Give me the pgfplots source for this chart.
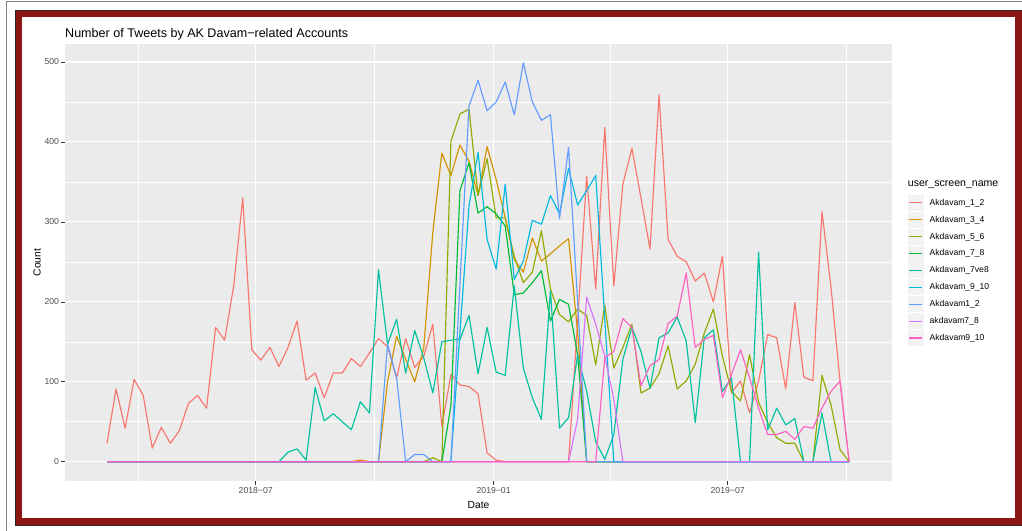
\documentclass[border=0pt]{standalone}
\usepackage{pgfplots}
\usepackage{pgfplotstable}
\pgfplotsset{compat=1.18}
\usepackage{fontspec}
\setmainfont{Liberation Sans}
\definecolor{c1}{HTML}{F8766D}
\definecolor{c2}{HTML}{D39200}
\definecolor{c3}{HTML}{93AA00}
\definecolor{c4}{HTML}{00BA38}
\definecolor{c5}{HTML}{00C19F}
\definecolor{c6}{HTML}{00B9E3}
\definecolor{c7}{HTML}{619CFF}
\definecolor{c8}{HTML}{DB72FB}
\definecolor{c9}{HTML}{FF61C3}
\definecolor{panel}{HTML}{EBEBEB}
\definecolor{grey20}{HTML}{333333}
\definecolor{grey30}{HTML}{4D4D4D}
\definecolor{keybg}{HTML}{F2F2F2}
\definecolor{framered}{HTML}{8B1713}
\pgfplotsset{keyimg/.style={legend image code/.code={\path[fill=keybg, draw=none] (0bp,-8bp) rectangle (16bp,8bp); \path[draw=#1, line width=1.15bp] (1.5bp,0bp) -- (14.5bp,0bp);}}}
\pgfplotstableread{
i s1 s2 s3 s4 s5 s6 s7 s8 s9
0 23 0 0 0 0 0 0 0 0
1 91 0 0 0 0 0 0 0 0
2 42 0 0 0 0 0 0 0 0
3 103 0 0 0 0 0 0 0 0
4 83 0 0 0 0 0 0 0 0
5 17 0 0 0 0 0 0 0 0
6 43 0 0 0 0 0 0 0 0
7 23 0 0 0 0 0 0 0 0
8 39 0 0 0 0 0 0 0 0
9 73 0 0 0 0 0 0 0 0
10 83 0 0 0 0 0 0 0 0
11 67 0 0 0 0 0 0 0 0
12 168 0 0 0 0 0 0 0 0
13 152 0 0 0 0 0 0 0 0
14 220 0 0 0 0 0 0 0 0
15 330 0 0 0 0 0 0 0 0
16 140 0 0 0 0 0 0 0 0
17 127 0 0 0 0 0 0 0 0
18 143 0 0 0 0 0 0 0 0
19 119 0 0 0 0 0 0 0 0
20 143 0 0 0 12 0 0 0 0
21 176 0 0 0 16 0 0 0 0
22 102 0 0 0 2 0 0 0 0
23 111 0 0 0 93 0 0 0 0
24 80 0 0 0 51 0 0 0 0
25 111 0 0 0 60 0 0 0 0
26 111 0 0 0 50 0 0 0 0
27 129 0 0 0 40 0 0 0 0
28 119 2 0 0 75 0 0 0 0
29 136 0 0 0 61 0 0 0 0
30 154 0 0 0 240 0 0 0 0
31 144 100 0 0 147 0 147 0 0
32 105 157 0 0 178 0 105 0 0
33 154 128 0 0 111 0 0 0 0
34 118 100 0 0 164 0 9 0 0
35 132 142 0 0 130 0 9 0 0
36 172 287 5 0 86 0 0 0 0
37 44 386 0 0 150 0 0 0 0
38 109 358 401 70 152 0 0 0 0
39 96 396 435 339 153 162 222 0 0
40 94 376 441 374 183 320 445 0 0
41 85 333 333 311 110 387 477 0 0
42 11 394 379 319 168 278 439 0 0
43 2 353 305 310 112 241 450 0 0
44 0 305 305 295 108 347 475 0 0
45 0 253 257 209 220 228 434 0 0
46 0 237 224 211 117 251 499 0 0
47 0 280 237 224 80 302 450 0 0
48 0 251 289 239 53 297 427 0 0
49 0 260 216 176 214 333 434 0 0
50 0 270 184 203 42 310 304 0 0
51 0 279 175 197 55 367 393 0 0
52 175 162 191 134 134 321 200 53 0
53 357 0 183 0 88 339 0 206 0
54 216 0 121 0 25 358 0 172 0
55 418 0 196 0 3 179 0 132 130
56 220 0 117 0 34 0 0 78 138
57 347 0 143 0 128 0 0 0 179
58 392 0 172 0 168 0 0 0 168
59 330 0 86 0 138 0 0 0 95
60 266 0 92 0 92 0 0 0 120
61 459 0 110 0 155 0 0 0 128
62 278 0 145 0 161 0 0 0 173
63 257 0 91 0 181 0 0 0 182
64 250 0 101 0 151 0 0 0 236
65 226 0 122 0 49 0 0 0 143
66 236 0 161 0 155 0 0 0 153
67 200 0 191 0 165 0 0 0 158
68 257 0 132 0 88 0 0 0 80
69 86 0 88 0 105 0 0 0 109
70 101 0 76 0 0 0 0 0 140
71 61 0 134 0 0 0 0 0 105
72 101 0 74 0 262 0 0 0 67
73 159 0 49 0 40 0 0 0 34
74 155 0 30 0 67 0 0 0 34
75 91 0 23 0 46 0 0 0 38
76 199 0 23 0 54 0 0 0 28
77 106 0 0 0 0 0 0 0 44
78 101 0 0 0 0 0 0 0 42
79 313 0 108 0 61 0 0 0 67
80 218 0 71 0 0 0 0 0 88
81 100 0 15 0 0 0 0 0 101
82 0 0 0 0 0 0 0 0 0
}\data
\begin{document}
\begin{tikzpicture}
\path[use as bounding box] (0,0) rectangle (1022bp,531bp);
\fill[white] (0,0) rectangle (1022bp,531bp);
\draw[gray, line width=1.2bp] (6.5bp,0) -- (6.5bp,529.3bp) -- (1022bp,529.3bp);
\fill[framered] (15bp,5bp) rectangle (1023bp,521bp);
\fill[white] (22bp,13bp) rectangle (1015bp,514bp);
\draw[black!85, line width=1bp] (1023bp,5.5bp) -- (15.5bp,5.5bp) -- (15.5bp,520.5bp) -- (1023bp,520.5bp);
\begin{axis}[
  at={(65bp,49.7bp)}, anchor=south west, scale only axis,
  width=827bp, height=437.3bp,
  xmin=-4.641, xmax=86.74, ymin=-24.5, ymax=522.5,
  axis background/.style={fill=panel},
  axis line style={draw=none},
  xtick={16.43,42.72,68.58}, xticklabels={2018−07,2019−01,2019−07},
  minor xtick={3.5,29.57,55.65,81.72},
  ytick={0,100,200,300,400,500}, minor ytick={50,150,250,350,450},
  grid=both,
  major grid style={white, line width=1.07bp},
  minor grid style={white, line width=0.53bp},
  tick align=outside, tick pos=left,
  major tick length=3.6bp, minor tick length=0pt,
  tick style={grey20, line width=0.55bp},
  ticklabel style={font=\fontsize{8.7}{10}\selectfont, text=grey30},
  /pgf/number format/assume math mode=true,
  yticklabel style={inner sep=0pt, xshift=-2.2bp},
  xticklabel style={inner sep=0pt, yshift=-2.4bp},
  every axis plot/.append style={no markers, line width=1.15bp, line join=round},
  legend style={at={(axis description cs:1.019,0.655)}, anchor=north west,
    draw=none, fill=none, inner sep=0pt, outer sep=0pt, row sep=0.9bp, column sep=6bp,
    nodes={inner sep=0pt, anchor=west}, font=\fontsize{8.6}{10}\selectfont, cells={anchor=west}},
]
\addplot[color=c1, keyimg=c1] table[x=i, y=s1] {\data};
\addplot[color=c2, keyimg=c2] table[x=i, y=s2] {\data};
\addplot[color=c3, keyimg=c3] table[x=i, y=s3] {\data};
\addplot[color=c4, keyimg=c4] table[x=i, y=s4] {\data};
\addplot[color=c5, keyimg=c5] table[x=i, y=s5] {\data};
\addplot[color=c6, keyimg=c6] table[x=i, y=s6] {\data};
\addplot[color=c7, keyimg=c7] table[x=i, y=s7] {\data};
\addplot[color=c8, keyimg=c8] table[x=i, y=s8] {\data};
\addplot[color=c9, keyimg=c9] table[x=i, y=s9] {\data};
\legend{Akdavam\_1\_2, Akdavam\_3\_4, Akdavam\_5\_6, Akdavam\_7\_8, Akdavam\_7ve8, Akdavam\_9\_10, Akdavam1\_2, akdavam7\_8, Akdavam9\_10}
\end{axis}
\node[font=\fontsize{12.6}{14}\selectfont, anchor=base west, inner sep=0pt] at (65bp,493.7bp) {Number of Tweets by AK Davam−related Accounts};
\node[font=\fontsize{10.3}{12}\selectfont, anchor=base, inner sep=0pt] at (478.5bp,22.5bp) {Date};
\node[font=\fontsize{10.3}{12}\selectfont, rotate=90, anchor=base, inner sep=0pt] at (40.5bp,268.3bp) {Count};
\node[font=\fontsize{10.6}{12}\selectfont, anchor=west, inner sep=0pt] at (907.7bp,346.3bp) {user\_screen\_name};
\end{tikzpicture}
\end{document}
